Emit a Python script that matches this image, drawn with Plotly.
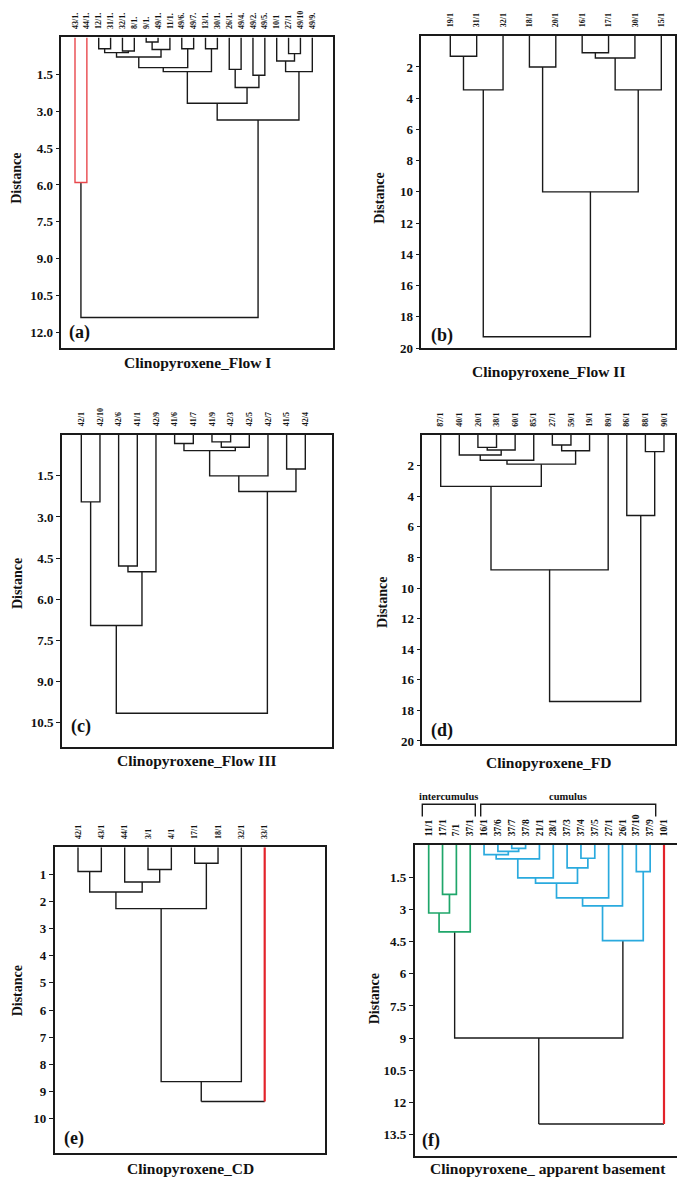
import plotly.graph_objects as go

W, H = 685, 1190
SERIF = "Liberation Serif"
BLACK = "#1a1a1a"

# ---------------- data ----------------
# (a) Clinopyroxene_Flow I
LEAVES_A = ["43/1.", "44/1.", "12/1.", "31/1.", "32/1.", "8/1.", "9/1.", "49/1.", "11/1.",
            "49/6.", "49/7.", "13/1.", "30/1.", "26/1.", "49/4.", "49/2.", "49/5.", "10/1",
            "27/1", "49/10", "49/9."]
LEFT_A = [6, 2, 9, 11, 4, 22, 21, 18, 26, 17, 29, 13, 31, 30, 15, 32, 33, 37, 0, 39]
RIGHT_A = [7, 3, 10, 12, 5, 25, 8, 19, 27, 28, 23, 14, 24, 20, 16, 35, 36, 34, 1, 38]
HEIGHT_A = [0.19, 0.46, 0.46, 0.46, 0.55, 0.62, 0.49, 0.66, 0.80, 0.96, 1.23, 1.30, 1.39,
            1.39, 1.54, 2.04, 2.68, 3.36, 5.90, 11.39]
YTICKS_A = [1.5, 3.0, 4.5, 6.0, 7.5, 9.0, 10.5, 12.0]
YTEXT_A = ["1.5", "3.0", "4.5", "6.0", "7.5", "9.0", "10.5", "12.0"]

# (b) Clinopyroxene_Flow II
LEAVES_B = ["19/1", "31/1", "32/1", "18/1", "20/1", "16/1", "17/1", "30/1", "15/1"]
LEFT_B = [5, 0, 9, 3, 10, 11, 12, 13]
RIGHT_B = [6, 1, 7, 4, 2, 8, 14, 15]
HEIGHT_B = [1.09, 1.32, 1.43, 2.00, 3.47, 3.47, 10.0, 19.28]
YTICKS_B = [2, 4, 6, 8, 10, 12, 14, 16, 18, 20]
YTEXT_B = ["2", "4", "6", "8", "10", "12", "14", "16", "18", "20"]

# (c) Clinopyroxene_Flow III
LEAVES_C = ["42/1", "42/10", "42/6", "41/1", "42/9", "41/6", "41/7", "41/9", "42/3", "42/5",
            "42/7", "41/5", "42/4"]
LEFT_C = [7, 5, 13, 14, 16, 11, 17, 0, 2, 21, 20, 23]
RIGHT_C = [8, 6, 9, 15, 10, 12, 18, 1, 3, 4, 22, 19]
HEIGHT_C = [0.26, 0.32, 0.46, 0.58, 1.50, 1.25, 2.07, 2.45, 4.79, 5.00, 6.96, 10.16]
YTICKS_C = [1.5, 3.0, 4.5, 6.0, 7.5, 9.0, 10.5]
YTEXT_C = ["1.5", "3.0", "4.5", "6.0", "7.5", "9.0", "10.5"]

# (d) Clinopyroxene_FD
LEAVES_D = ["87/1", "40/1", "20/1", "38/1", "60/1", "85/1", "27/1", "59/1", "19/1", "89/1",
            "86/1", "88/1", "90/1"]
LEFT_D = [6, 2, 14, 13, 11, 1, 18, 19, 0, 10, 21, 23]
RIGHT_D = [7, 3, 4, 8, 12, 15, 5, 16, 20, 17, 9, 22]
HEIGHT_D = [0.65, 0.80, 0.97, 1.02, 1.08, 1.30, 1.64, 1.90, 3.35, 5.26, 8.81, 17.42]
YTICKS_D = [2, 4, 6, 8, 10, 12, 14, 16, 18, 20]
YTEXT_D = ["2", "4", "6", "8", "10", "12", "14", "16", "18", "20"]

# (e) Clinopyroxene_CD
LEAVES_E = ["42/1", "43/1", "44/1", "3/1", "4/1", "17/1", "18/1", "32/1", "33/1"]
LEFT_E = [5, 3, 0, 2, 11, 13, 14, 15]
RIGHT_E = [6, 4, 1, 10, 12, 9, 7, 8]
HEIGHT_E = [0.59, 0.82, 0.89, 1.28, 1.65, 2.26, 8.64, 9.37]
YTICKS_E = [1, 2, 3, 4, 5, 6, 7, 8, 9, 10]
YTEXT_E = ["1", "2", "3", "4", "5", "6", "7", "8", "9", "10"]

# (f) Clinopyroxene_ apparent basement
LEAVES_F = ["11/1", "17/1", "7/1", "37/1", "16/1", "37/6", "37/7", "37/8", "21/1", "28/1",
            "37/3", "37/4", "37/5", "27/1", "26/1", "37/10", "37/9", "10/1"]
LEFT_F = [6, 5, 4, 11, 20, 10, 15, 22, 25, 1, 26, 28, 0, 30, 29, 31, 33]
RIGHT_F = [7, 18, 19, 12, 8, 21, 16, 9, 23, 2, 13, 14, 27, 3, 24, 32, 17]
HEIGHT_F = [0.16, 0.30, 0.45, 0.62, 0.65, 1.07, 1.24, 1.53, 1.78, 2.30, 2.47, 2.84, 3.17,
            4.05, 4.46, 8.99, 13.0]
YTICKS_F = [1.5, 3, 4.5, 6, 7.5, 9, 10.5, 12, 13.5]
YTEXT_F = ["1.5", "3", "4.5", "6", "7.5", "9", "10.5", "12", "13.5"]

GROUP_LABELS_F = ["intercumulus", "cumulus"]

# ---------------- styles ----------------
RED_A = "#e8474c"
RED = "#e3232a"
GREEN = "#1fa66a"
BLUE = "#2aaade"
WIDTHS = {BLACK: 1.4, RED_A: 1.4, RED: 2.2, GREEN: 1.7, BLUE: 1.7}

# pixel frames: left, right, top(value 0), bottom, first leaf x, last leaf x, bottom value
PANELS = [
    dict(leaves=LEAVES_A, left=LEFT_A, right=RIGHT_A, height=HEIGHT_A, yt=YTICKS_A, ytx=YTEXT_A,
         L=53.3, R=325.0, T=29.6, B=342.3, f=67.0, l=304.3, vb=12.63, lab_fs=8,
         mcol={18: RED_A}, lcol={}, title="Clinopyroxene_Flow I", tc=(189, 357),
         dist=(9, 172), tag="(a)", tagxy=(59, 327)),
    dict(leaves=LEAVES_B, left=LEFT_B, right=RIGHT_B, height=HEIGHT_B, yt=YTICKS_B, ytx=YTEXT_B,
         L=413.3, R=667.0, T=27.9, B=342.3, f=442.3, l=653.3, vb=20.0, lab_fs=8,
         mcol={}, lcol={}, title="Clinopyroxene_Flow II", tc=(540, 366),
         dist=(372, 192), tag="(b)", tagxy=(421, 330)),
    dict(leaves=LEAVES_C, left=LEFT_C, right=RIGHT_C, height=HEIGHT_C, yt=YTICKS_C, ytx=YTEXT_C,
         L=54.0, R=324.3, T=429.6, B=744.0, f=73.3, l=297.3, vb=11.39, lab_fs=8,
         mcol={}, lcol={}, title="Clinopyroxene_Flow III", tc=(188, 758),
         dist=(9, 580), tag="(c)", tagxy=(61, 723)),
    dict(leaves=LEAVES_D, left=LEFT_D, right=RIGHT_D, height=HEIGHT_D, yt=YTICKS_D, ytx=YTEXT_D,
         L=414.3, R=667.0, T=430.0, B=740.7, f=432.7, l=656.0, vb=20.18, lab_fs=8,
         mcol={}, lcol={}, title="Clinopyroxene_FD", tc=(540, 760),
         dist=(375, 599), tag="(d)", tagxy=(421, 727)),
    dict(leaves=LEAVES_E, left=LEFT_E, right=RIGHT_E, height=HEIGHT_E, yt=YTICKS_E, ytx=YTEXT_E,
         L=46.7, R=316.7, T=845.0, B=1153.0, f=70.0, l=256.7, vb=11.28, lab_fs=8,
         mcol={}, lcol={8: RED}, title="Clinopyroxene_CD", tc=(183, 1168),
         dist=(9, 990), tag="(e)", tagxy=(54, 1138)),
    dict(leaves=LEAVES_F, left=LEFT_F, right=RIGHT_F, height=HEIGHT_F, yt=YTICKS_F, ytx=YTEXT_F,
         L=406.7, R=675.0, T=842.6, B=1156.0, f=420.7, l=656.0, vb=14.5, lab_fs=9.5,
         mcol={**{k: BLUE for k in [0, 1, 2, 3, 4, 5, 6, 7, 8, 10, 11, 14]},
               **{k: GREEN for k in [9, 12, 13]}},
         lcol={17: RED}, title="Clinopyroxene_ apparent basement", tc=(540, 1168),
         dist=(366, 997), tag="(f)", tagxy=(412, 1140)),
]


def dendro_paths(n, left, right, height, mcol, lcol):
    xs = list(range(n))
    hs = [0.0] * n
    paths = []
    for k, (a, b, h) in enumerate(zip(left, right, height)):
        mc = mcol.get(k, BLACK)
        ca = lcol.get(a, mc) if a < n else mc
        cb = lcol.get(b, mc) if b < n else mc
        xa, ha, xb, hb = xs[a], hs[a], xs[b], hs[b]
        if ca == mc == cb:
            paths.append((mc, [(xa, ha), (xa, h), (xb, h), (xb, hb)]))
        else:
            paths.append((ca, [(xa, ha), (xa, h)]))
            paths.append((mc, [(xa, h), (xb, h)]))
            paths.append((cb, [(xb, h), (xb, hb)]))
        xs.append((xa + xb) / 2.0)
        hs.append(h)
    return paths


fig = go.Figure()
annotations = []
shapes = []


def px(x):
    return x / W


def py(y):
    return 1 - y / H


for i, p in enumerate(PANELS, start=1):
    sfx = "" if i == 1 else str(i)
    n = len(p["leaves"])
    paths = dendro_paths(n, p["left"], p["right"], p["height"], p["mcol"], p["lcol"])
    groups = {}
    for col, pts in paths:
        g = groups.setdefault(col, ([], []))
        for x, y in pts:
            g[0].append(x)
            g[1].append(y)
        g[0].append(None)
        g[1].append(None)
    # draw black first, colored on top
    order = sorted(groups.keys(), key=lambda c: 0 if c == BLACK else 1)
    for col in order:
        gx, gy = groups[col]
        fig.add_trace(go.Scatter(x=gx, y=gy, mode="lines",
                                 line=dict(color=col, width=WIDTHS[col]),
                                 xaxis="x" + sfx, yaxis="y" + sfx,
                                 hoverinfo="skip", showlegend=False))
    dx = (p["l"] - p["f"]) / (n - 1)
    xr = [(p["L"] - p["f"]) / dx, (p["R"] - p["f"]) / dx]
    fig.update_layout(**{
        "xaxis" + sfx: dict(domain=[px(p["L"]), px(p["R"])], range=xr, side="top",
                            anchor="y" + sfx, tickmode="array",
                            tickvals=list(range(n)), ticktext=p["leaves"], tickangle=-90,
                            tickfont=dict(family=SERIF, size=p["lab_fs"], color="#111",
                                          weight="bold"),
                            ticks="", ticklabelstandoff=5,
                            showline=True, mirror=True, linecolor=BLACK, linewidth=1.6,
                            showgrid=False, zeroline=False, fixedrange=True),
        "yaxis" + sfx: dict(domain=[py(p["B"]), py(p["T"])], range=[p["vb"], 0],
                            anchor="x" + sfx, tickmode="array", tickvals=p["yt"],
                            ticktext=p["ytx"], ticks="outside", ticklen=4, tickwidth=1.4,
                            tickcolor=BLACK,
                            tickfont=dict(family=SERIF, size=13, color="#111", weight="bold"),
                            showline=True, mirror=True, linecolor=BLACK, linewidth=1.6,
                            showgrid=False, zeroline=False, fixedrange=True),
    })
    annotations.append(dict(text=p["title"], x=px(p["tc"][0]), y=py(p["tc"][1]),
                            xref="paper", yref="paper", showarrow=False,
                            xanchor="center", yanchor="middle",
                            font=dict(family=SERIF, size=15.5, color="#111", weight="bold")))
    annotations.append(dict(text="Distance", x=px(p["dist"][0]), y=py(p["dist"][1]),
                            xref="paper", yref="paper", showarrow=False, textangle=-90,
                            xanchor="center", yanchor="middle",
                            font=dict(family=SERIF, size=14, color="#111", weight="bold")))
    annotations.append(dict(text=p["tag"], x=px(p["tagxy"][0]), y=py(p["tagxy"][1]),
                            xref="paper", yref="paper", showarrow=False,
                            xanchor="left", yanchor="middle",
                            font=dict(family=SERIF, size=18, color="#111", weight="bold")))

# brackets over panel (f)
BRACKETS = [(414.3, 467.3), (472.7, 647.7)]
for (x0, x1), lab in zip(BRACKETS, GROUP_LABELS_F):
    shapes.append(dict(type="path", xref="paper", yref="paper",
                       path=f"M {px(x0)} {py(814)} L {px(x0)} {py(801.7)} "
                            f"L {px(x1)} {py(801.7)} L {px(x1)} {py(814)}",
                       line=dict(color=BLACK, width=1.4)))
    annotations.append(dict(text=lab, x=px((x0 + x1) / 2), y=py(794), xref="paper",
                            yref="paper", showarrow=False, xanchor="center", yanchor="middle",
                            font=dict(family=SERIF, size=10.5, color="#111", weight="bold")))

fig.update_layout(width=W, height=H, margin=dict(l=0, r=0, t=0, b=0),
                  paper_bgcolor="white", plot_bgcolor="white",
                  annotations=annotations, shapes=shapes, showlegend=False)

fig.write_html("out.html")
